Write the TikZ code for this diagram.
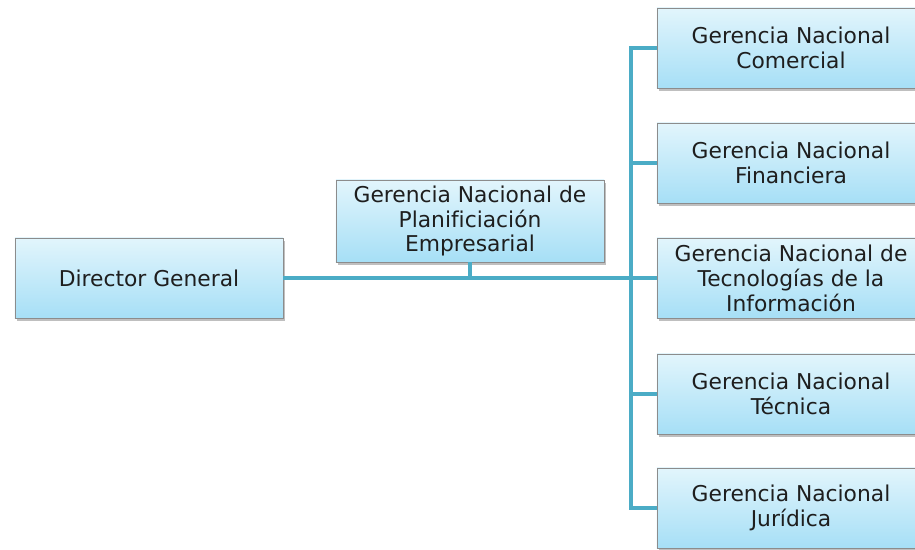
\documentclass[tikz,border=0pt]{standalone}
\usepackage{fontspec}
\setmainfont[Ligatures=NoCommon]{DejaVu Sans}
\usetikzlibrary{shadows,positioning}

\definecolor{linea}{RGB}{75,172,198}
\definecolor{cajatop}{RGB}{226,245,252}
\definecolor{cajabot}{RGB}{166,223,246}
\definecolor{borde}{RGB}{140,140,140}
\definecolor{texto}{RGB}{30,30,30}

\tikzset{
    caja/.style={draw=borde, line width=0.6pt, top color=cajatop, bottom color=cajabot,
        minimum width=6.7cm, minimum height=2cm, align=center, inner sep=1pt,
        text=texto, font=\fontsize{15.5}{17.7}\selectfont,
        drop shadow={opacity=0.5, shadow xshift=1.2pt, shadow yshift=-2pt}},
    rama/.style={draw=linea, line width=2.4pt},
    codo/.style={to path={|- (\tikztotarget)}}
}

\begin{document}
\begin{tikzpicture}[x=0.025cm, y=-0.025cm]
            \useasboundingbox (0,0) rectangle (915,550);
            \draw (149,278) node[caja] (dg) {Director General};
            \draw (470,221) node[caja, minimum height=2.05cm] (gp) {Gerencia Nacional de\\Planificiación\\Empresarial};
            \draw (791,48) node[caja] (gc) {Gerencia Nacional\\Comercial};
            \draw (791,163) node[caja] (gf) {Gerencia Nacional\\Financiera};
            \draw (791,278) node[caja] (gt) {Gerencia Nacional de\\Tecnologías de la\\Información};
            \draw (791,394) node[caja] (gtec) {Gerencia Nacional\\Técnica};
            \draw (791,508) node[caja] (gj) {Gerencia Nacional\\Jurídica};
            \coordinate (bus) at (631,278);
            \path[rama]
            (dg.east) edge (bus)
            (gp.south) edge (gp.south |- bus)
            (bus) edge[codo] (gc.west)
                  edge[codo] (gf.west)
                  edge (gt.west)
                  edge[codo] (gtec.west)
                  edge[codo] (gj.west)
            ;
        \end{tikzpicture}
\end{document}
